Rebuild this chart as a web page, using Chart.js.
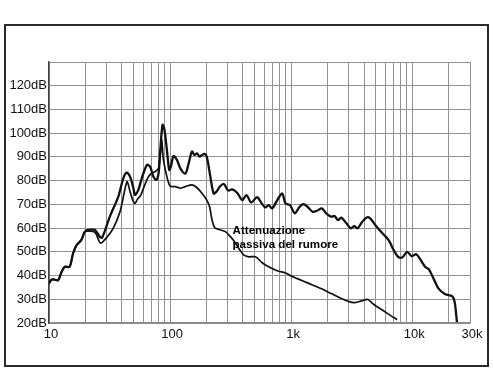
<!DOCTYPE html>
<html lang="it">
<head>
    <meta charset="UTF-8">
    <title>Attenuazione passiva del rumore</title>
    <script src="https://cdn.jsdelivr.net/npm/chart.js"></script>
    <style>
        body {
            margin: 0;
            background: #ffffff;
        }
        .wrap {
            position: relative;
            width: 493px;
            height: 370px;
        }
        .frame {
            position: absolute;
            left: 4px;
            top: 24px;
            width: 481px;
            height: 339px;
            border: 2px solid #2a2a2a;
        }
        canvas {
            position: absolute;
            left: 0;
            top: 0;
        }
    </style>
</head>
<body>

    <div class="wrap">
        <div class="frame"></div>
        <canvas id="chart" width="493" height="370"></canvas>
    </div>

    <script>
        // upper curve (noise level)
        const upperFreq = [10, 10.5, 11.1, 11.9, 12.7, 13.5, 14.8, 15.8, 16.9, 18.5, 19.8, 21.1, 24, 26.3, 27.5,
            31.8, 37.3, 41.1, 43.8, 46.7, 49.8, 51.3, 54.6, 58.4, 64.4, 68.4, 72.8, 76.9, 80.3, 82.6,
            86.6, 89.5, 94.1, 98.4, 101.5, 106.8, 114, 121.5, 133.7, 142.4, 151.7, 159, 167, 175, 184,
            192, 201, 215, 229, 242, 258, 278, 302, 325, 358, 394, 428, 467, 524, 576,
            612, 652, 696, 768, 843, 898, 978, 1073, 1163, 1259, 1365, 1503, 1636, 1790, 1949,
            2141, 2283, 2435, 2597, 2859, 3110, 3318, 3540, 3828, 4216, 4495, 4947, 5622, 6389, 7032,
            7650, 8258, 9088, 9876, 10800, 11750, 12770, 13780, 15000, 16500, 18760, 21300, 22400, 23400];
        const upperDb = [36.6, 38.3, 38.3, 38, 41.5, 43.7, 43.7, 49.3, 52.8, 55, 58.5, 59.2, 59.2, 56.3, 56,
            64.8, 73.2, 81, 83.4, 81.7, 76.8, 74, 76, 81, 86.6, 85.9, 81.7, 80.3, 83, 91.5,
            103.5, 102, 93, 84.5, 85.9, 90.4, 88.7, 85.2, 83, 87.3, 92.3, 90.8, 91.5, 90.1, 90.8,
            91.3, 90.1, 81.7, 74.6, 75.4, 77.5, 78.6, 75.8, 76.3, 74.9, 71.8, 73.9, 70.8, 73, 70.1,
            68.7, 69.7, 68.3, 71.8, 74.6, 70.4, 69.7, 66.2, 68.7, 70.1, 69, 66.9, 67.3, 68.3, 66.2,
            64.8, 65.1, 63.4, 64.4, 62, 59.9, 60.8, 59.9, 62.4, 64.5, 64.1, 61.3, 58, 54.9, 50.7,
            47.9, 47.6, 50, 48.2, 49, 46.5, 43.7, 42.5, 38.7, 34.5, 32.1, 31.3, 28.9, 20.4];

        // lower curve (passive attenuation)
        const lowerFreq = [10, 10.5, 11.1, 11.9, 12.7, 13.5, 14.8, 15.8, 16.9, 18.5, 19.8, 21.1, 24, 26.6, 29.9,
            33.9, 38.6, 41.1, 43.2, 44.3, 46.7, 49.2, 51.3, 53.7, 57.3, 61, 66.3, 70.6, 75.2, 80.3,
            83.6, 85.2, 88.2, 94.1, 100.2, 110.2, 121.5, 133.7, 151.7, 166.7, 184, 201, 212, 222, 233,
            253, 286, 316, 337, 370, 407, 447, 508, 576, 652, 768, 898, 992, 1125, 1365,
            1767, 2141, 2597, 3049, 3360, 3828, 4296, 4792, 5622, 6595, 7500];
        const lowerDb = [36.6, 38.3, 38.3, 38, 41.5, 43.7, 43.7, 49.3, 52.8, 55, 58.5, 58.7, 58.2, 53.7, 56,
            59.9, 66.9, 73.2, 78.2, 79.6, 75.4, 71.8, 70.4, 72.1, 73.9, 77.5, 81.7, 83.1, 83.8, 85.2,
            92.3, 97.2, 88.7, 81.7, 77.7, 77.5, 76.8, 77.5, 78.2, 77, 74.6, 71.8, 69, 63.4, 60.3,
            59.4, 58.5, 56.3, 54.6, 51.4, 48.6, 47.9, 47.9, 45.4, 43.7, 42, 41.1, 39.9, 38.7, 36.9,
            34.5, 32.4, 30.3, 28.9, 28.6, 29.3, 29.9, 27.9, 25.6, 23.2, 21.4];

        const xGrid = [10, 20, 30, 40, 50, 60, 70, 80, 90, 100, 200, 300, 400, 500, 600, 700, 800, 900,
            1000, 2000, 3000, 4000, 5000, 6000, 7000, 8000, 9000, 10000, 20000, 30000];
        const xLabels = { 10: '10', 100: '100', 1000: '1k', 10000: '10k', 30000: '30k' };

        const noteLines = ['Attenuazione', 'passiva del rumore'];
        const noteAt = { x: 328, y: 58.7 };

        const font = 'Arial, "Liberation Sans", sans-serif';

        function toPoints(xs, ys) {
            return xs.map((f, i) => ({ x: f, y: ys[i] }));
        }

        const notePlugin = {
            id: 'note',
            afterDatasetsDraw(chart) {
                const ctx = chart.ctx;
                const x = chart.scales.x.getPixelForValue(noteAt.x);
                const y = chart.scales.y.getPixelForValue(noteAt.y);
                ctx.save();
                ctx.font = 'bold 11.6px ' + font;
                ctx.fillStyle = '#000';
                ctx.textBaseline = 'middle';
                noteLines.forEach((t, i) => ctx.fillText(t, x, y + i * 14));
                ctx.restore();
            }
        };

        new Chart(document.getElementById('chart').getContext('2d'), {
            type: 'line',
            data: {
                datasets: [{
                    label: 'Rumore',
                    data: toPoints(upperFreq, upperDb),
                    borderColor: '#111',
                    borderWidth: 2.3,
                    pointRadius: 0,
                    tension: 0.3,
                    fill: false
                }, {
                    label: 'Attenuazione passiva',
                    data: toPoints(lowerFreq, lowerDb),
                    borderColor: '#111',
                    borderWidth: 1.7,
                    pointRadius: 0,
                    tension: 0.3,
                    fill: false
                }]
            },
            options: {
                responsive: false,
                animation: false,
                layout: { padding: { left: 0, top: 62, right: 23, bottom: 27 } },
                plugins: {
                    legend: { display: false },
                    tooltip: { enabled: false }
                },
                scales: {
                    x: {
                        type: 'logarithmic',
                        min: 10,
                        max: 30000,
                        afterBuildTicks: s => { s.ticks = xGrid.map(v => ({ value: v })); },
                        afterFit: s => { s.height = 20; },
                        grid: { color: '#929292', lineWidth: 1, drawTicks: false },
                        border: { color: '#888', width: 1.5 },
                        ticks: {
                            autoSkip: false,
                            maxRotation: 0,
                            padding: 4,
                            labelOffset: 2,
                            color: '#111',
                            font: { family: font, size: 13 },
                            callback: v => xLabels[v] || ''
                        }
                    },
                    y: {
                        min: 20,
                        max: 130,
                        afterFit: s => { s.width = 49; },
                        grid: { color: '#929292', lineWidth: 1, drawTicks: false },
                        border: { color: '#444', width: 1.5 },
                        ticks: {
                            stepSize: 10,
                            padding: 2,
                            color: '#111',
                            font: { family: font, size: 13 },
                            callback: v => v === 130 ? '' : v + 'dB'
                        }
                    }
                }
            },
            plugins: [notePlugin]
        });
    </script>

</body>
</html>
